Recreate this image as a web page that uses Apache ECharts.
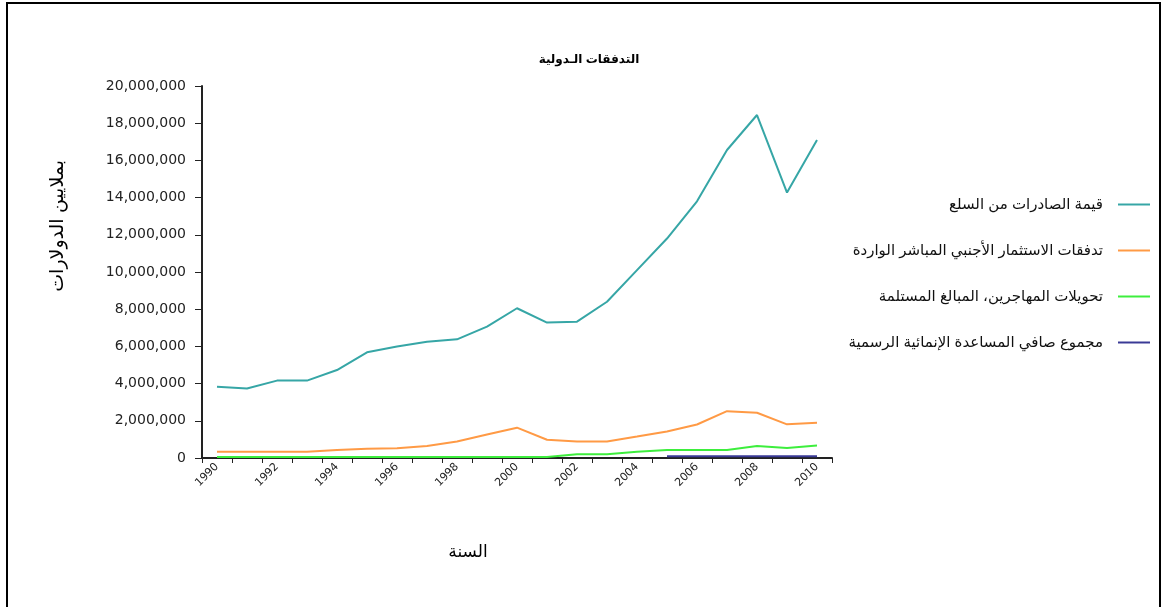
<!DOCTYPE html>
<html>
<head>
<meta charset="utf-8">
<script src="https://cdn.jsdelivr.net/npm/echarts@6/dist/echarts.min.js"></script>
<style>
  html, body { margin: 0; padding: 0; background: #fff; }
  #chart { width: 1168px; height: 607px; }
</style>
</head>
<body>
<div id="chart"></div>
<script>
var years = ['1990', '1991', '1992', '1993', '1994', '1995', '1996', '1997', '1998', '1999', '2000',
  '2001', '2002', '2003', '2004', '2005', '2006', '2007', '2008', '2009', '2010'];

// قيمة الصادرات من السلع
var exportsGoods = [3830000, 3740000, 4160000, 4160000, 4730000, 5680000, 5990000, 6250000, 6380000, 7060000, 8050000,
  7280000, 7330000, 8400000, 10100000, 11800000, 13800000, 16560000, 18440000, 14270000, 17100000];
// تدفقات الاستثمار الأجنبي المباشر الواردة
var fdiInflows = [330000, 330000, 330000, 330000, 430000, 500000, 520000, 650000, 890000, 1260000, 1630000,
  980000, 890000, 890000, 1150000, 1420000, 1800000, 2520000, 2430000, 1810000, 1900000];
// تحويلات المهاجرين، المبالغ المستلمة
var remittances = [50000, 50000, 50000, 50000, 50000, 50000, 50000, 50000, 50000, 50000, 50000,
  50000, 200000, 200000, 340000, 430000, 430000, 430000, 650000, 540000, 670000];
// مجموع صافي المساعدة الإنمائية الرسمية
var netOda = [null, null, null, null, null, null, null, null, null, null, null,
  null, null, null, null, 100000, 100000, 100000, 100000, 100000, 100000];

var seriesNames = [
  'قيمة الصادرات من السلع',
  'تدفقات الاستثمار الأجنبي المباشر الواردة',
  'تحويلات المهاجرين، المبالغ المستلمة',
  'مجموع صافي المساعدة الإنمائية الرسمية'
];
var colors = ['#36a6a6', '#ff9a45', '#3dee3d', '#3a3a96'];

var arFont = '"Liberation Sans", "DejaVu Sans", sans-serif';
var numFont = '"DejaVu Sans", sans-serif';

function line(name, data, color) {
  return {
    name: name,
    type: 'line',
    data: data,
    showSymbol: false,
    symbol: 'none',
    lineStyle: { color: color, width: 2 },
    itemStyle: { color: color },
    connectNulls: false
  };
}

var chart = echarts.init(document.getElementById('chart'));
chart.setOption({
  animation: false,
  backgroundColor: '#fff',
  textStyle: { fontFamily: arFont },
  graphic: [{
    type: 'rect',
    shape: { x: 7, y: 3, width: 1153, height: 620 },
    style: { fill: 'none', stroke: '#000', lineWidth: 2 },
    silent: true
  }, {
    type: 'text',
    left: 48,
    top: 160,
    rotation: Math.PI / 2,
    style: {
      text: 'بملايين الدولارات',
      font: '19px ' + arFont,
      fill: '#000'
    }
  }],
  title: {
    text: 'التدفقات الـدولية',
    left: 584,
    top: 49,
    textAlign: 'center',
    textStyle: { fontSize: 12, fontWeight: 'bold', color: '#000', fontFamily: arFont }
  },
  legend: {
    orient: 'vertical',
    right: 13,
    top: 192,
    align: 'right',
    itemGap: 31,
    itemWidth: 32,
    itemHeight: 2,
    icon: 'rect',
    data: seriesNames,
    textStyle: { fontSize: 15, color: '#111', fontFamily: arFont, padding: [0, 10, 0, 0] }
  },
  grid: { left: 202, right: 336, top: 86, bottom: 149, containLabel: false },
  xAxis: {
    type: 'category',
    data: years,
    boundaryGap: true,
    name: 'السنة',
    nameLocation: 'middle',
    nameGap: 86,
    nameTextStyle: { fontSize: 17, color: '#000', fontFamily: arFont, padding: [0, 0, 0, -98] },
    axisLine: { lineStyle: { color: '#222', width: 2 } },
    axisTick: { show: true, interval: 0, alignWithLabel: false, length: 5, lineStyle: { color: '#222' } },
    axisLabel: { interval: 1, rotate: 45, fontSize: 11, color: '#222', margin: 7, fontFamily: numFont },
    splitLine: { show: false }
  },
  yAxis: {
    type: 'value',
    min: 0,
    max: 20000000,
    interval: 2000000,
    axisLine: { show: true, lineStyle: { color: '#222', width: 2 } },
    axisTick: { show: true, length: 7, lineStyle: { color: '#222' } },
    axisLabel: {
      fontSize: 14,
      color: '#222',
      margin: 16,
      fontFamily: numFont,
      formatter: function (v) { return v.toLocaleString('en-US'); }
    },
    splitLine: { show: false }
  },
  series: [
    line(seriesNames[0], exportsGoods, colors[0]),
    line(seriesNames[1], fdiInflows, colors[1]),
    line(seriesNames[2], remittances, colors[2]),
    line(seriesNames[3], netOda, colors[3])
  ]
});
</script>
</body>
</html>
